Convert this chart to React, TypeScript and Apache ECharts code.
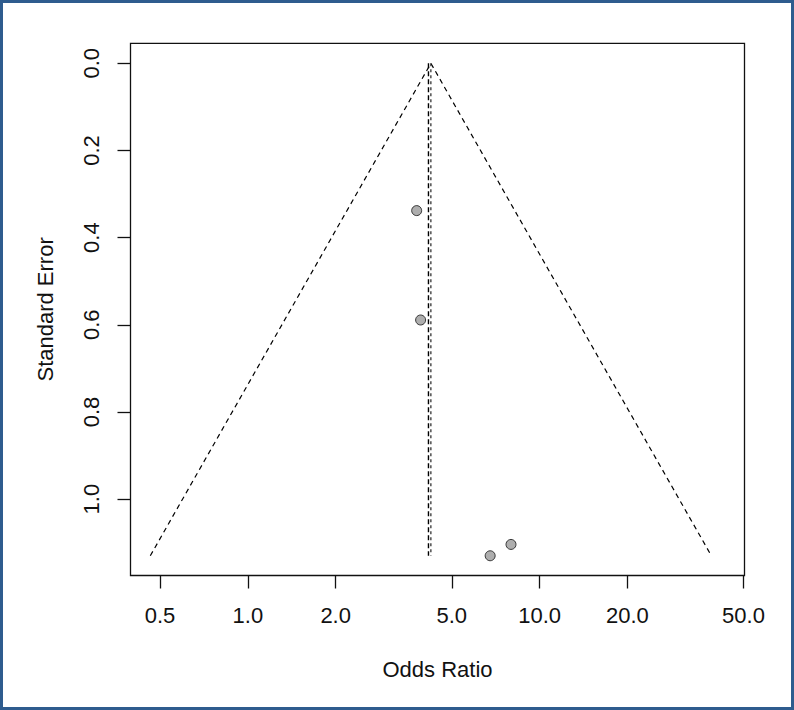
import React, { useEffect, useRef } from "react";
import * as echarts from "echarts";

// Study points (odds ratio, standard error)
const studyOR = [3.79, 3.91, 6.77, 7.98];
const studySE = [0.338, 0.589, 1.13, 1.104];

// Funnel outline (lower bound, apex, upper bound) and its standard errors
const funnelOR = [0.463, 4.24, 38.8];
const funnelSE = [1.13, 0, 1.13];

// Two reference lines at the pooled estimate
const refOR = [4.16, 4.24];
const refSE = [0, 1.13];

const xTicks = [0.5, 1, 2, 5, 10, 20, 50];
const yTicks = [0, 0.2, 0.4, 0.6, 0.8, 1.0];

const FONT = "Liberation Sans, Arial, sans-serif";

export default function App() {
  const ref = useRef<HTMLDivElement>(null);
  useEffect(() => {
    const chart = echarts.init(ref.current!, null, { renderer: "svg" });
    const option: any = {
      animation: false,
      backgroundColor: "#ffffff",
      grid: {
        left: 130.5,
        top: 43.3,
        right: 49.5,
        bottom: 134.5,
        show: true,
        borderColor: "#111",
        borderWidth: 1.3,
        backgroundColor: "transparent",
      },
      graphic: [
        {
          type: "rect",
          shape: { x: 1.5, y: 1.5, width: 791, height: 707 },
          style: { fill: "none", stroke: "#2f5c8e", lineWidth: 3 },
          silent: true,
          z: 100,
        },
      ],
      xAxis: {
        type: "log",
        logBase: 10,
        min: 0.396,
        max: 50.4,
        position: "bottom",
        name: "Odds Ratio",
        nameLocation: "middle",
        nameGap: 83,
        nameTextStyle: { fontFamily: FONT, fontSize: 22, color: "#111" },
        axisLine: { show: false, onZero: false },
        splitLine: { show: false },
        minorTick: { show: false },
        axisTick: {
          show: true,
          inside: false,
          length: 13,
          lineStyle: { color: "#111", width: 1.3 },
          customValues: xTicks,
        },
        axisLabel: {
          customValues: xTicks,
          margin: 29,
          fontFamily: FONT,
          fontSize: 22,
          color: "#111",
          formatter: (v: number) => Number(v).toFixed(1),
        },
      },
      yAxis: {
        type: "value",
        inverse: true,
        min: -0.0459,
        max: 1.1753,
        position: "left",
        name: "Standard Error",
        nameLocation: "middle",
        nameGap: 74,
        nameRotate: 90,
        nameTextStyle: { fontFamily: FONT, fontSize: 22, color: "#111" },
        axisLine: { show: false, onZero: false },
        splitLine: { show: false },
        axisTick: {
          show: true,
          length: 13,
          lineStyle: { color: "#111", width: 1.3 },
          customValues: yTicks,
        },
        axisLabel: {
          customValues: yTicks,
          rotate: 90,
          margin: 28,
          fontFamily: FONT,
          fontSize: 22,
          color: "#111",
          formatter: (v: number) => Number(v).toFixed(1),
        },
      },
      series: [
        {
          type: "line",
          data: funnelOR.map((x, i) => [x, funnelSE[i]]),
          showSymbol: false,
          symbol: "none",
          lineStyle: { color: "#000", width: 1.2, type: [5, 4] },
          z: 2,
        },
        {
          type: "line",
          data: refSE.map((s) => [refOR[0], s]),
          showSymbol: false,
          symbol: "none",
          lineStyle: { color: "#000", width: 1.4, type: [5, 3] },
          z: 2,
        },
        {
          type: "line",
          data: refSE.map((s) => [refOR[1], s]),
          showSymbol: false,
          symbol: "none",
          lineStyle: { color: "#222", width: 1.2, type: [3, 3] },
          z: 2,
        },
        {
          type: "scatter",
          data: studyOR.map((x, i) => [x, studySE[i]]),
          symbol: "circle",
          symbolSize: 10,
          itemStyle: { color: "#9a9a9a", borderColor: "#111", borderWidth: 1 },
          z: 3,
        },
      ],
    };
    chart.setOption(option);
    return () => chart.dispose();
  }, []);
  return (
    <div
      ref={ref}
      style={{ position: "fixed", left: 0, top: 0, width: 794, height: 710 }}
    />
  );
}
